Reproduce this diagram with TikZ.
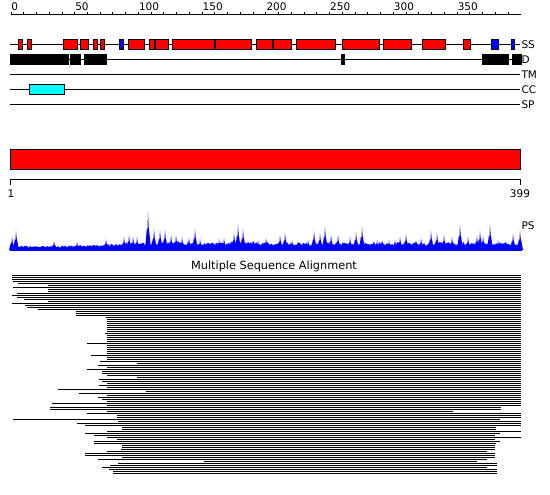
\documentclass[tikz,border=0pt]{standalone}
\usepackage{fontspec}
\setmainfont{DejaVu Sans}
\usetikzlibrary{calc}
\definecolor{ssred}{RGB}{255,0,0}
\definecolor{ssblue}{RGB}{0,0,255}
\definecolor{cccyan}{RGB}{0,255,255}
\def\featbox[#1](#2:#3:#4){\draw[#1] (#2,#4-5) rectangle (#3,#4+5);}
\tikzset{
  lbl/.style={anchor=west, inner sep=1pt},
  msa/.style={line width=1pt, line cap=butt}
}

\begin{document}
\begin{tikzpicture}[x=1pt, y=-1pt, line width=1pt, font=\fontsize{10.5}{12}\selectfont]
\useasboundingbox (0,0) rectangle (550,495);

% ruler
\draw (11,15) -- (521,15);
\foreach \r in {0,10,...,390}
  \draw ({11+1.275*\r},12) -- ({11+1.275*\r},15);
\foreach \r in {0,50,...,350}
  \node[anchor=south west, inner sep=0pt] (tick\r) at ({11+1.275*\r},11) {\r};

% tracks
\foreach \y/\name in {45/SS,60/D,75/TM,90/CC,105/SP}{
  \draw (10,\y) -- (520,\y);
  \node[lbl] (lab\name) at (520,\y) {\name};
}

\foreach \a/\b in {18/22,27/31,63/77,80/88,93/97,100/104,128/144,149/154,155/168,
  172/214,215/251,256/272,273/291,296/335,342/379,383/411,422/445,463/470}
  \featbox[fill=ssred](\a:\b:45);
\foreach \a/\b in {119/123,491/498,511/514}
  \featbox[fill=ssblue](\a:\b:45);
\foreach \a/\b in {10/68,70/80,84/106,341/344,482/508,512/521}
  \featbox[fill=black](\a:\b:60);
\featbox[fill=cccyan](29:64:90);

% sequence bar
\draw[fill=ssred] (10,150) rectangle (520,170);
\draw (10,185) -- (10,180) -- (520,180) -- (520,185);
\node[anchor=north, inner sep=0pt] (first) at (11,189) {1};
\node[anchor=north, inner sep=0pt] (last) at (520,189) {399};

% profile
\pgfmathsetseed{11}
\fill[ssblue] (10,250) \foreach \x in {10,11,...,521}{
  -- (\x,{250-(2.5+2*rnd+min(1,max(0,(\x-60)/90))*(1+2.5*rnd+4*rnd*rnd*rnd))}) } -- (521,250) -- cycle;
\foreach \x/\h in {12/13,16/19,54/9,77/8,106/11,124/13,129/15,133/13,137/13,148/38,154/21,
  160/20,165/20,171/15,176/15,182/13,189/12,195/21,200/11,219/11,224/12,234/17,238/25,243/21,
  258/10,266/12,280/15,285/17,292/10,308/10,314/19,320/17,325/23,331/15,338/15,350/13,
  356/18,362/23,377/10,389/10,400/13,406/16,421/12,431/19,437/17,444/15,452/13,460/25,
  468/13,477/14,480/19,483/14,490/25,498/10,513/16,520/19}
  \fill[ssblue] (\x-3,250) -- (\x-1.2,250-0.55*\h) -- (\x-0.6,250-0.5*\h) -- (\x,250-\h)
    -- (\x+0.7,250-0.6*\h) -- (\x+1.4,250-0.45*\h) -- (\x+3,250) -- cycle;
\draw[ssblue] (10,250) -- (522,250);
\node[lbl] (labPS) at (520,226) {PS};

% alignment
\node[font=\fontsize{11.3}{13}\selectfont] (msatitle) at (274,266) {Multiple Sequence Alignment};
\foreach \s/\e [count=\i from 0] in {12/521,12/521,12/521,13/521,18/521,48/521,13/521,48/521,
  48/521,17/521,12/521,17/521,24/521,48/521,12/521,25/521,27/521,38/521,76/521,76/521,
  76/521,106/521,107/521,107/521,107/521,107/521,107/521,107/521,107/521,105/521,
  107/521,107/521,107/521,107/521,87/521,107/521,107/521,107/521,107/521,107/521,
  91/521,107/521,107/521,100/521,137/521,98/521,107/521,87/521,102/521,102/521,
  107/521,137/521,99/521,102/521,107/521,99/521,107/521,58/521,146/521,79/521,
  107/521,98/521,102/521,107/521,52/521,107/521,50/501,50/501,107/453,87/521,
  117/521,117/521,13/500,118/521,77/521,85/521,122/496,122/496,107/521,85/500,
  94/495,107/521,117/495,94/500,94/496,122/495,122/495,121/495,107/487,85/495,
  85/495,122/495,98/487,204/477,118/497,110/497,102/487,109/497,113/497,113/497}
  \draw[msa] (\s,{275+2*\i}) -- (\e,{275+2*\i});
\end{tikzpicture}
\end{document}
